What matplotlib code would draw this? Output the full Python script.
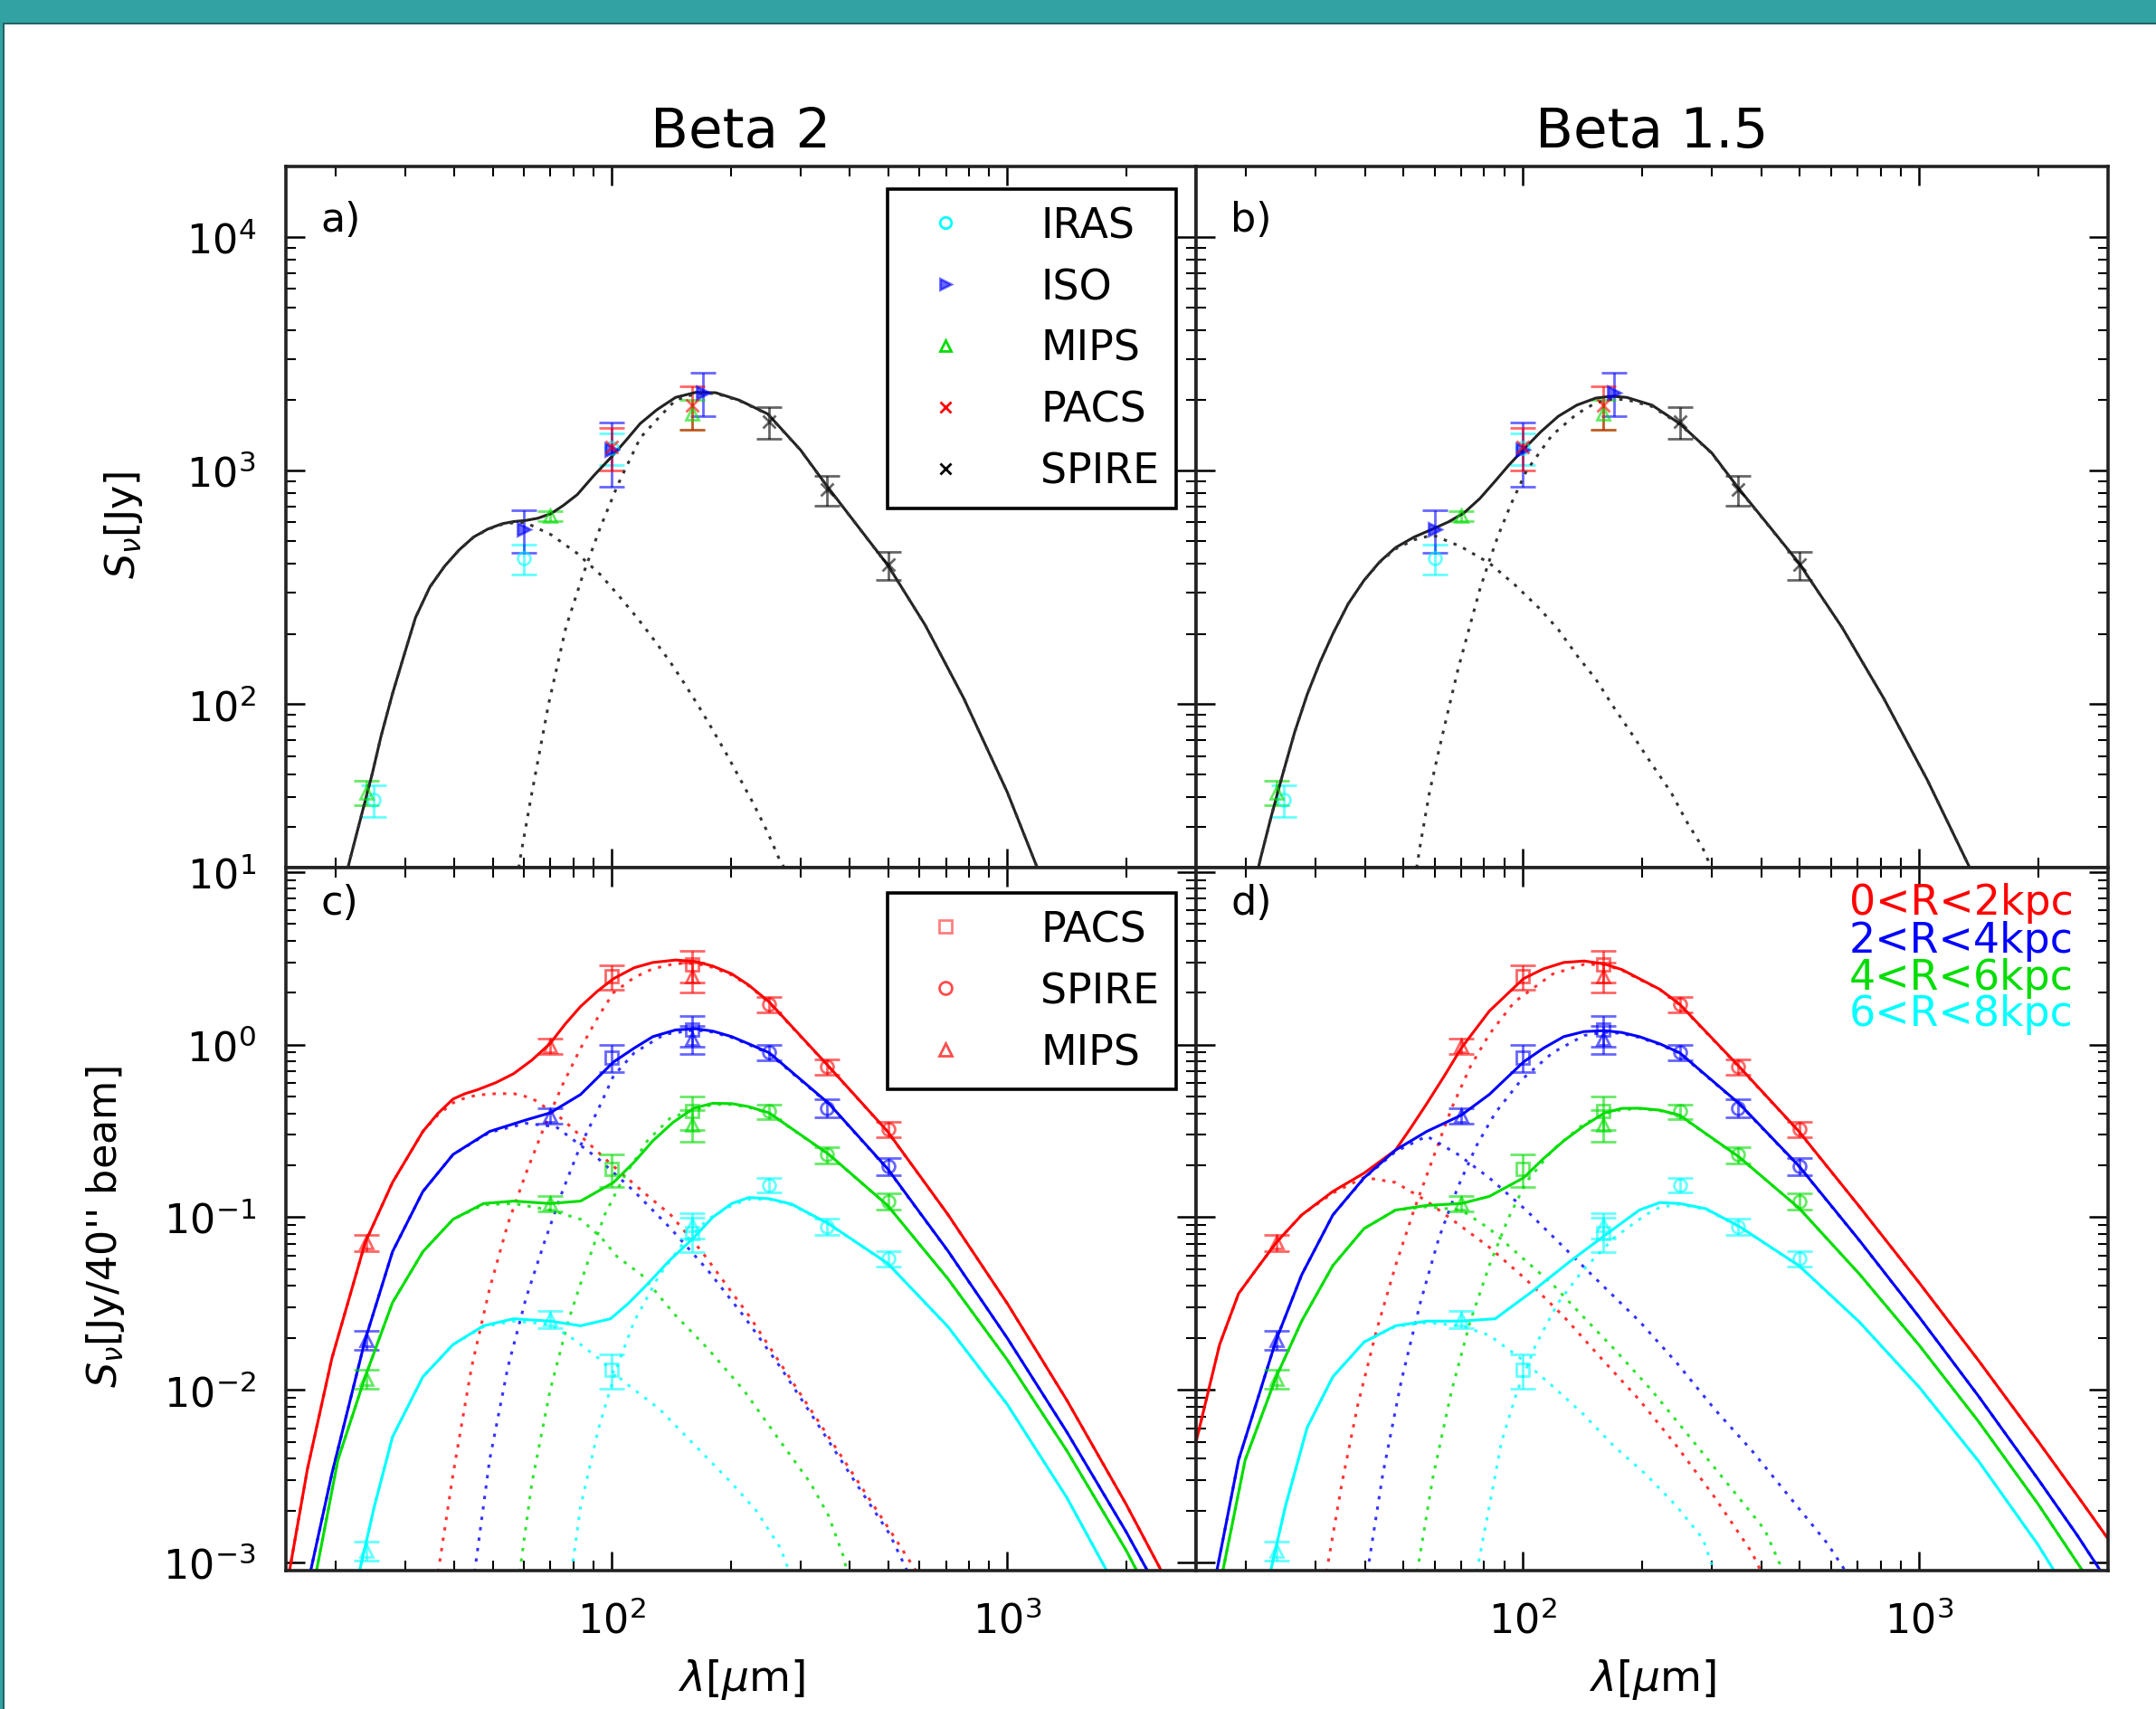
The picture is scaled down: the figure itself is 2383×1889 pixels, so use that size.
import matplotlib
matplotlib.use('Agg')
import matplotlib.pyplot as plt
from matplotlib.lines import Line2D
from matplotlib.patches import Rectangle

plt.rcParams['font.family'] = ['DejaVu Sans']
plt.rcParams['mathtext.fontset'] = 'dejavusans'

# ---------------- top panels: global SED (Jy) ----------------
iras_lam = [25, 60, 100]
iras_S = [39, 420, 1250]
iras_err = [6, 60, 190]
iso_lam = [60, 100, 170]
iso_S = [560, 1230, 2160]
iso_err = [115, 380, 450]
mips_lam = [24, 70, 160]
mips_S = [42, 640, 1750]
mips_err = [5, 30, 250]
pacs_lam = [100, 160]
pacs_S = [1260, 1900]
pacs_err = [260, 400]
spire_lam = [250, 350, 500]
spire_S = [1620, 830, 395]
spire_err = [250, 120, 55]

# panel a (beta 2) model curves
a_tot_lam = [21.2, 21.8, 24.8, 26.1, 27.9, 29.9, 31.9, 34.7, 37.8, 41.1, 44.7, 48.6, 52.8, 56.5, 60.4, 65, 70.3, 75.5, 81.8, 90,
             100, 108, 118, 130, 145, 163, 183, 210, 248, 300, 352, 420, 499, 620, 776, 1000, 1190, 1230]
a_tot_S = [18, 21.8, 50.5, 73, 111, 164, 235, 318, 390, 457, 519, 562, 592, 605, 611, 625, 655, 710, 789, 950,
           1148, 1331, 1589, 1820, 2056, 2160, 2153, 2000, 1746, 1225, 847, 574, 393, 218, 106, 42, 20, 17.6]
a_cold_lam = [57.7, 58.5, 62.5, 69.2, 76.6, 84.5, 93.5, 103.5, 118, 130, 145, 163, 183, 210, 248, 300, 352, 420, 499, 620,
              776, 1000, 1190, 1230]
a_cold_S = [18, 21.3, 40, 100, 214, 357, 570, 867, 1380, 1650, 2005, 2130, 2140, 1990, 1740, 1222, 845, 573, 392, 218,
            106, 42, 20, 17.6]
a_warm_lam = [21.2, 21.8, 24.8, 26.1, 27.9, 29.9, 31.9, 34.7, 37.8, 41.1, 44.7, 48.6, 52.8, 56.5, 60.4, 70.3, 81.8, 93.5,
              103.5, 116, 126, 140, 152, 166, 180, 196, 211, 228, 248, 264, 275]
a_warm_S = [18, 21.8, 50.5, 73, 111, 164, 235, 318, 390, 457, 518, 560, 588, 598, 600, 531, 442, 359,
            295, 234, 195, 153, 124, 97.7, 77.6, 60.3, 47.9, 37.6, 28.2, 22.1, 19.5]

# panel b (beta 1.5) model curves
b_tot_lam = [21.4, 21.8, 23.2, 24.8, 26.6, 28.6, 30.8, 33.2, 36.3, 39.8, 43.6, 47.8, 53.2, 59.3, 65, 71.1, 78, 85.3, 92.5,
             100.5, 111, 123, 137, 153, 168, 183, 212, 249, 300, 352, 420, 498, 640, 815, 1050, 1343, 1410]
b_tot_S = [19, 21.8, 33, 50, 76, 110, 151, 200, 269, 339, 407, 468, 519, 562, 603, 658, 759, 902, 1059,
           1230, 1462, 1706, 1905, 2042, 2080, 2056, 1905, 1589, 1190, 832, 575, 402, 213, 106, 47.4, 20, 16.7]
b_cold_lam = [53.5, 55.2, 58.2, 61.5, 65, 68.7, 73.8, 78, 82.4, 86.9, 93.5, 102.3, 118.6, 137, 153, 168, 183, 212, 249,
              300, 352, 420, 498, 640, 815, 1050, 1343, 1410]
b_cold_S = [18, 25.1, 41.9, 63.7, 95, 141, 220, 310, 411, 531, 719, 998, 1416, 1746, 1950, 2020, 2010, 1880, 1580,
            1185, 828, 573, 401, 213, 106, 47.4, 20, 16.7]
b_warm_lam = [21.4, 21.8, 23.2, 24.8, 26.6, 28.6, 30.8, 33.2, 36.3, 39.8, 43.6, 47.8, 53.2, 59.3, 69.8, 82.4, 95.3, 110,
              123, 137, 153, 170, 190, 212, 237, 259, 284, 300]
b_warm_S = [19, 21.8, 33, 50, 76, 110, 151, 200, 269, 339, 405, 462, 505, 530, 473, 402, 326, 258,
            209, 162, 128, 96.8, 73.3, 55.3, 41.9, 31.6, 24.5, 19.8]

# ---------------- bottom panels: radial rings (Jy / 40" beam) ----------------
ring_labels = ['0<R<2kpc', '2<R<4kpc', '4<R<6kpc', '6<R<8kpc']
ring_colors = ['#ff0000', '#0000ff', '#00dd00', '#00ffff']

r_mips_lam = [24, 70, 160]
r_pacs_lam = [100, 160]
r_spire_lam = [250, 350, 500]

red_mips = [0.0713, 0.98, 2.5]
blue_mips = [0.0195, 0.39, 1.08]
green_mips = [0.0116, 0.12, 0.345]
cyan_mips = [0.00117, 0.0258, 0.09]
red_mips_err = [0.008, 0.1, 0.5]
blue_mips_err = [0.0025, 0.04, 0.2]
green_mips_err = [0.0015, 0.012, 0.07]
cyan_mips_err = [0.00015, 0.003, 0.015]

red_pacs = [2.48, 2.9]
blue_pacs = [0.84, 1.22]
green_pacs = [0.19, 0.41]
cyan_pacs = [0.0131, 0.081]
red_pacs_err = [0.4, 0.6]
blue_pacs_err = [0.15, 0.25]
green_pacs_err = [0.04, 0.09]
cyan_pacs_err = [0.003, 0.018]

red_spire = [1.71, 0.745, 0.324]
blue_spire = [0.90, 0.43, 0.198]
green_spire = [0.41, 0.23, 0.124]
cyan_spire = [0.154, 0.0885, 0.0575]
red_spire_err = [0.17, 0.08, 0.035]
blue_spire_err = [0.09, 0.05, 0.022]
green_spire_err = [0.04, 0.025, 0.013]
cyan_spire_err = [0.015, 0.01, 0.006]

# panel c (beta 2) model curves
c_red_tot_lam = [15.3, 17.0, 19.6, 23.8, 27.9, 33.3, 36.3, 39.7, 42.5, 45.7, 51, 56.5, 62.8, 69.8, 76.3, 83.4, 92, 101, 114, 127,
                 145, 163, 180, 201, 222, 250, 354, 498, 708, 1000, 1413, 1995, 2460]
c_red_tot_S = [8.8e-4, 3.47e-3, 0.0152, 0.0713, 0.159, 0.314, 0.398, 0.484, 0.519, 0.547, 0.603, 0.679, 0.813, 1.014, 1.318, 1.663, 2.04, 2.41, 2.79, 2.99,
               3.09, 3.03, 2.85, 2.57, 2.21, 1.766, 0.745, 0.314, 0.1035, 0.0316, 8.73e-3, 2.18e-3, 8.8e-4]
c_red_cold_lam = [36.4, 39.7, 44.2, 49.1, 54.6, 60.7, 67.5, 75.0, 83.4, 92.7, 101, 114, 127, 145, 163, 180, 201, 222, 250, 354,
                  498, 708, 1000, 1413, 1995, 2460]
c_red_cold_S = [8.8e-4, 3.26e-3, 0.0135, 0.0385, 0.0914, 0.180, 0.334, 0.582, 0.953, 1.469, 2.0, 2.45, 2.75, 2.95, 2.95, 2.8, 2.53, 2.19, 1.75, 0.742,
                0.313, 0.1033, 0.0316, 8.73e-3, 2.18e-3, 8.8e-4]
c_red_warm_lam = [15.3, 17.0, 19.6, 23.8, 27.9, 33.3, 36.3, 39.7, 42.5, 45.7, 51, 56.5, 62.8, 75.0, 86.3, 99.3, 120.5, 141, 169, 223,
                  296, 386, 512, 590]
c_red_warm_S = [8.8e-4, 3.47e-3, 0.0152, 0.0713, 0.159, 0.314, 0.39, 0.46, 0.49, 0.51, 0.52, 0.52, 0.49, 0.37, 0.275, 0.204, 0.139, 0.103, 0.0631, 0.0266,
                9.89e-3, 3.92e-3, 1.46e-3, 8.8e-4]

c_blue_tot_lam = [17.3, 19.6, 23.8, 27.9, 33.3, 39.7, 49.1, 60.7, 69.8, 83.4, 101, 114, 127, 145, 163, 180, 201, 222, 250, 354,
                  498, 708, 1000, 1413, 1995, 2270]
c_blue_tot_S = [8.8e-4, 3.26e-3, 0.0195, 0.0631, 0.141, 0.231, 0.314, 0.366, 0.402, 0.514, 0.793, 0.955, 1.112, 1.216, 1.236, 1.197, 1.112, 1.01, 0.897, 0.455,
                0.191, 0.0637, 0.0199, 5.71e-3, 1.51e-3, 8.8e-4]
c_blue_cold_lam = [45.0, 49.1, 54.6, 60.7, 67.5, 75.0, 83.4, 92.7, 101, 114, 136, 163, 180, 201, 222, 250, 354, 498, 708, 1000,
                   1413, 1995, 2270]
c_blue_cold_S = [8.8e-4, 3.92e-3, 0.0135, 0.034, 0.0713, 0.141, 0.261, 0.428, 0.659, 0.897, 1.148, 1.216, 1.18, 1.10, 1.0, 0.885, 0.452, 0.190, 0.0635, 0.0199,
                 5.71e-3, 1.51e-3, 8.8e-4]
c_blue_warm_lam = [17.3, 19.6, 23.8, 27.9, 33.3, 39.7, 49.1, 60.7, 72.3, 92.7, 114, 141, 175, 216, 267, 330, 407, 504, 560]
c_blue_warm_S = [8.8e-4, 3.26e-3, 0.0195, 0.0631, 0.141, 0.231, 0.31, 0.35, 0.334, 0.217, 0.141, 0.0859, 0.0492, 0.0266, 0.0135, 6.43e-3, 3.06e-3, 1.46e-3, 8.8e-4]

c_green_tot_lam = [17.9, 20.3, 23.8, 27.9, 33.3, 39.7, 47.4, 56.5, 69.8, 83.4, 101, 114, 127, 143, 161, 180, 201, 222, 250, 354,
                   498, 708, 1000, 1413, 1995, 2133]
c_green_tot_S = [8.8e-4, 3.92e-3, 0.0119, 0.032, 0.0631, 0.0973, 0.120, 0.124, 0.120, 0.124, 0.159, 0.209, 0.277, 0.355, 0.428, 0.457, 0.455, 0.437, 0.402, 0.231,
                 0.117, 0.0439, 0.0149, 4.45e-3, 1.18e-3, 8.8e-4]
c_green_cold_lam = [58.5, 62.8, 69.8, 77.6, 86.3, 95.9, 107, 123, 141, 161, 180, 201, 222, 250, 354, 498, 708, 1000, 1413, 1995, 2133]
c_green_cold_S = [8.8e-4, 2.88e-3, 9.89e-3, 0.025, 0.0524, 0.103, 0.169, 0.277, 0.378, 0.417, 0.45, 0.45, 0.433, 0.40, 0.23, 0.117, 0.0439, 0.0149, 4.45e-3, 1.18e-3, 8.8e-4]
c_green_warm_lam = [17.9, 20.3, 23.8, 27.9, 33.3, 39.7, 47.4, 56.5, 69.8, 83.4, 94.2, 103, 119, 144, 175, 216, 267, 318, 353, 386, 393]
c_green_warm_S = [8.8e-4, 3.92e-3, 0.0119, 0.032, 0.0631, 0.0973, 0.118, 0.120, 0.110, 0.0973, 0.0759, 0.0593, 0.0463, 0.0274, 0.0173, 9.89e-3, 5.01e-3, 2.88e-3, 1.87e-3, 1.07e-3, 8.8e-4]

c_cyan_tot_lam = [23.0, 25.1, 27.9, 33.3, 39.7, 47.4, 56.5, 69.8, 83.4, 99.3, 110, 123, 140, 161, 180, 201, 222, 250, 285, 354,
                  498, 708, 1000, 1413, 1791]
c_cyan_tot_S = [8.8e-4, 2.11e-3, 5.33e-3, 0.0119, 0.0183, 0.0235, 0.0258, 0.025, 0.0235, 0.0258, 0.0316, 0.0409, 0.0562, 0.0759, 0.1, 0.120, 0.130, 0.128, 0.119, 0.0914,
                0.0541, 0.0232, 8.22e-3, 2.38e-3, 8.8e-4]
c_cyan_cold_lam = [79.1, 83.4, 92.7, 103, 114, 132, 152, 175, 201, 222, 250, 285, 354, 498, 708, 1000, 1413, 1791]
c_cyan_cold_S = [8.8e-4, 2.11e-3, 6.04e-3, 0.0135, 0.025, 0.0463, 0.0713, 0.0973, 0.117, 0.127, 0.127, 0.118, 0.091, 0.054, 0.0231, 8.2e-3, 2.38e-3, 8.8e-4]
c_cyan_warm_lam = [23.0, 25.1, 27.9, 33.3, 39.7, 47.4, 56.5, 69.8, 80.4, 92.7, 107, 132, 163, 201, 232, 267, 281]
c_cyan_warm_S = [8.8e-4, 2.11e-3, 5.33e-3, 0.0119, 0.0183, 0.0232, 0.025, 0.024, 0.0195, 0.0152, 0.0112, 7.73e-3, 4.71e-3, 2.88e-3, 1.99e-3, 1.21e-3, 8.8e-4]

# panel d (beta 1.5) model curves
d_red_tot_lam = [15.0, 17.2, 19.2, 21.3, 23.9, 27.7, 33.2, 39.8, 47.8, 52.3, 57.3, 63.5, 70.0, 82.4, 100.5, 113, 127, 143, 161, 178,
                 197, 222, 249, 352, 498, 708, 1000, 1413, 1995, 2512, 3000]
d_red_tot_S = [5.0e-3, 0.0183, 0.0361, 0.050, 0.0713, 0.103, 0.141, 0.180, 0.245, 0.331, 0.455, 0.66, 0.953, 1.563, 2.41, 2.75, 2.99, 3.05, 2.93, 2.72,
               2.41, 2.09, 1.714, 0.745, 0.314, 0.115, 0.0419, 0.0148, 5.06e-3, 2.43e-3, 1.37e-3]
d_red_cold_lam = [32.0, 35.0, 38.4, 42.8, 47.8, 53.2, 59.3, 66.2, 73.8, 82.4, 95.3, 119, 143, 161, 178, 197, 222, 249, 352, 498,
                  708, 1000, 1413, 1995, 2512, 3000]
d_red_cold_S = [8.8e-4, 2.88e-3, 8.22e-3, 0.0221, 0.0524, 0.110, 0.217, 0.428, 0.745, 1.148, 1.766, 2.56, 2.92, 2.9, 2.7, 2.39, 2.08, 1.70, 0.74, 0.313,
                0.1148, 0.0419, 0.0148, 5.06e-3, 2.43e-3, 1.37e-3]
d_red_warm_lam = [15.0, 17.2, 19.2, 21.3, 23.9, 27.7, 33.2, 39.8, 47.8, 57.3, 68.7, 82.4, 102, 127, 158, 197, 245, 305, 379, 400]
d_red_warm_S = [5.0e-3, 0.0183, 0.036, 0.050, 0.0713, 0.103, 0.138, 0.17, 0.159, 0.124, 0.0914, 0.067, 0.0436, 0.0266, 0.0152, 8.75e-3, 4.71e-3, 2.39e-3, 1.14e-3, 8.8e-4]

d_blue_tot_lam = [16.9, 19.2, 23.9, 27.7, 33.2, 39.8, 47.8, 57.3, 70.0, 82.4, 100.5, 113, 127, 143, 161, 178, 197, 222, 249, 352,
                  498, 708, 1000, 1413, 1995, 2512, 2884]
d_blue_tot_S = [8.8e-4, 3.92e-3, 0.0195, 0.0463, 0.103, 0.169, 0.245, 0.314, 0.390, 0.514, 0.793, 0.955, 1.112, 1.19, 1.205, 1.175, 1.112, 1.01, 0.897, 0.455,
                0.198, 0.0733, 0.0265, 9.2e-3, 3.05e-3, 1.43e-3, 8.8e-4]
d_blue_cold_lam = [40.6, 44.4, 49.4, 55.2, 61.5, 68.7, 76.6, 85.3, 98.9, 119, 143, 161, 178, 197, 222, 249, 352, 498, 708, 1000,
                   1413, 1995, 2512, 2884]
d_blue_cold_S = [8.8e-4, 3.26e-3, 0.0112, 0.032, 0.0759, 0.150, 0.261, 0.402, 0.619, 0.897, 1.13, 1.18, 1.16, 1.10, 1.0, 0.89, 0.452, 0.197, 0.0731, 0.0265,
                 9.2e-3, 3.05e-3, 1.43e-3, 8.8e-4]
d_blue_warm_lam = [16.9, 19.2, 23.9, 27.7, 33.2, 39.8, 47.8, 57.3, 68.7, 82.4, 102, 127, 158, 197, 245, 305, 379, 472, 587, 655]
d_blue_warm_S = [8.8e-4, 3.92e-3, 0.0195, 0.0463, 0.103, 0.168, 0.24, 0.295, 0.231, 0.169, 0.110, 0.067, 0.0409, 0.025, 0.0143, 7.73e-3, 4.44e-3, 2.39e-3, 1.29e-3, 8.8e-4]

d_green_tot_lam = [17.5, 19.95, 23.9, 27.7, 33.2, 39.8, 47.8, 57.3, 70.0, 82.4, 100.5, 113, 127, 143, 161, 178, 197, 222, 249, 352,
                   498, 708, 1000, 1413, 1995, 2600]
d_green_tot_S = [8.8e-4, 3.92e-3, 0.0119, 0.025, 0.0524, 0.0859, 0.110, 0.117, 0.120, 0.132, 0.169, 0.219, 0.277, 0.339, 0.402, 0.427, 0.428, 0.417, 0.390, 0.223,
                 0.113, 0.0468, 0.0182, 6.56e-3, 2.19e-3, 8.8e-4]
d_green_cold_lam = [54.2, 59.3, 66.2, 73.8, 82.4, 91.8, 102, 119, 142, 161, 178, 197, 222, 249, 352, 498, 708, 1000, 1413, 1995, 2600]
d_green_cold_S = [8.8e-4, 3.06e-3, 9.89e-3, 0.025, 0.0524, 0.0973, 0.159, 0.245, 0.344, 0.398, 0.42, 0.425, 0.414, 0.388, 0.222, 0.113, 0.0467, 0.0182, 6.56e-3, 2.19e-3, 8.8e-4]
d_green_warm_lam = [17.5, 19.95, 23.9, 27.7, 33.2, 39.8, 47.8, 57.3, 70.0, 82.4, 98.9, 119, 142, 170, 212, 264, 328, 408, 455]
d_green_warm_S = [8.8e-4, 3.92e-3, 0.0119, 0.025, 0.0524, 0.0859, 0.11, 0.115, 0.110, 0.0859, 0.0593, 0.0409, 0.0266, 0.0173, 9.89e-3, 5.33e-3, 2.88e-3, 1.55e-3, 8.8e-4]

d_cyan_tot_lam = [23.1, 25.2, 28.6, 33.2, 39.8, 47.8, 57.3, 70.0, 85.3, 106, 132, 161, 197, 222, 249, 290, 352, 498, 708, 1000,
                  1413, 1995, 2203]
d_cyan_tot_S = [8.8e-4, 2.11e-3, 6.04e-3, 0.0119, 0.0189, 0.0235, 0.025, 0.025, 0.0258, 0.0373, 0.0557, 0.0783, 0.110, 0.1216, 0.120, 0.112, 0.0885, 0.0524, 0.0247, 0.0104,
                3.87e-3, 1.27e-3, 8.8e-4]
d_cyan_cold_lam = [76.6, 82.4, 88.5, 97.0, 108, 123, 142, 170, 204, 222, 249, 290, 352, 498, 708, 1000, 1413, 1995, 2203]
d_cyan_cold_S = [8.8e-4, 2.11e-3, 5.01e-3, 9.89e-3, 0.0183, 0.032, 0.0493, 0.0759, 0.103, 0.114, 0.119, 0.111, 0.088, 0.0522, 0.0246, 0.0104, 3.87e-3, 1.27e-3, 8.8e-4]
d_cyan_warm_lam = [23.1, 25.2, 28.6, 33.2, 39.8, 47.8, 57.3, 70.0, 82.4, 98.9, 119, 142, 170, 204, 245, 285, 305]
d_cyan_warm_S = [8.8e-4, 2.11e-3, 6.04e-3, 0.0119, 0.0189, 0.0233, 0.0245, 0.0235, 0.0207, 0.0152, 0.0105, 7.26e-3, 4.71e-3, 3.26e-3, 2.11e-3, 1.37e-3, 8.8e-4]

# ---------------- figure ----------------
W, H = 2383, 1890
fig = plt.figure(figsize=(W / 100, H / 100), dpi=100)

x0, xm, x1 = 316 / W, 1322 / W, 2330 / W
yt, ym, yb = 1 - 185 / H, 1 - 960 / H, 1 - 1737 / H
axa = fig.add_axes([x0, ym, xm - x0, yt - ym])
axb = fig.add_axes([xm, ym, x1 - xm, yt - ym])
axc = fig.add_axes([x0, yb, xm - x0, ym - yb])
axd = fig.add_axes([xm, yb, x1 - xm, ym - yb])

TICK_FS = 32
DOT = (0, (1.2, 2.6))

for ax in (axa, axb, axc, axd):
    ax.set_xscale('log')
    ax.set_yscale('log')
    ax.set_xlim(15, 3000)
    ax.tick_params(which='both', direction='in', top=True, right=True,
                   labelsize=TICK_FS, pad=24)
    ax.tick_params(which='major', length=15, width=1.8)
    ax.tick_params(which='minor', length=8, width=1.5)
    for s in ax.spines.values():
        s.set_linewidth(2.6)
        s.set_color('#222222')

for ax in (axa, axb):
    ax.set_ylim(20, 2e4)
    ax.tick_params(labelbottom=False)
for ax in (axc, axd):
    ax.set_ylim(8.97e-4, 10.6)
for ax in (axb, axd):
    ax.tick_params(labelleft=False)

# ---- top panels ----
eb_kw = dict(capsize=10, elinewidth=2, capthick=2, ms=10, mew=2, alpha=0.6, linestyle='none')
for ax in (axa, axb):
    ax.errorbar(iras_lam, iras_S, yerr=iras_err, fmt='o', color='#00ffff', mfc='none', **eb_kw)
    ax.errorbar(iso_lam, iso_S, yerr=iso_err, fmt='>', color='#0000ff', **eb_kw)
    ax.errorbar(mips_lam, mips_S, yerr=mips_err, fmt='^', color='#00dd00', mfc='none', **eb_kw)
    ax.errorbar(pacs_lam, pacs_S, yerr=pacs_err, fmt='x', color='#ff0000', **eb_kw)
    ax.errorbar(spire_lam, spire_S, yerr=spire_err, fmt='x', color='#000000', **eb_kw)

axa.plot(a_tot_lam, a_tot_S, color='#222222', lw=2.2)
axa.plot(a_cold_lam, a_cold_S, color='#333333', lw=2.2, ls=DOT)
axa.plot(a_warm_lam, a_warm_S, color='#333333', lw=2.2, ls=DOT)
axb.plot(b_tot_lam, b_tot_S, color='#222222', lw=2.2)
axb.plot(b_cold_lam, b_cold_S, color='#333333', lw=2.2, ls=DOT)
axb.plot(b_warm_lam, b_warm_S, color='#333333', lw=2.2, ls=DOT)

leg_kw = dict(fontsize=33, numpoints=1, handlelength=2.0, handletextpad=1.3,
              labelspacing=0.5, borderpad=0.4, fancybox=False, edgecolor='black',
              loc='upper right', borderaxespad=0)
h_top = [
    Line2D([], [], ls='none', marker='o', color='#00ffff', mfc='none', ms=9, mew=2),
    Line2D([], [], ls='none', marker='>', color='#0000ff', alpha=0.6, ms=9, mew=2),
    Line2D([], [], ls='none', marker='^', color='#00dd00', mfc='none', ms=9, mew=2),
    Line2D([], [], ls='none', marker='x', color='#ff0000', ms=9, mew=2),
    Line2D([], [], ls='none', marker='x', color='#000000', ms=9, mew=2),
]
lg = axa.legend(h_top, ['IRAS', 'ISO', 'MIPS', 'PACS', 'SPIRE'],
                bbox_to_anchor=(0.978, 0.968), **leg_kw)
lg.get_frame().set_linewidth(2.6)
lg.get_frame().set_alpha(1)

# ---- bottom panels ----
mips_vals = [red_mips, blue_mips, green_mips, cyan_mips]
mips_errs = [red_mips_err, blue_mips_err, green_mips_err, cyan_mips_err]
pacs_vals = [red_pacs, blue_pacs, green_pacs, cyan_pacs]
pacs_errs = [red_pacs_err, blue_pacs_err, green_pacs_err, cyan_pacs_err]
spire_vals = [red_spire, blue_spire, green_spire, cyan_spire]
spire_errs = [red_spire_err, blue_spire_err, green_spire_err, cyan_spire_err]

c_curves = [
    (c_red_tot_lam, c_red_tot_S, c_red_cold_lam, c_red_cold_S, c_red_warm_lam, c_red_warm_S),
    (c_blue_tot_lam, c_blue_tot_S, c_blue_cold_lam, c_blue_cold_S, c_blue_warm_lam, c_blue_warm_S),
    (c_green_tot_lam, c_green_tot_S, c_green_cold_lam, c_green_cold_S, c_green_warm_lam, c_green_warm_S),
    (c_cyan_tot_lam, c_cyan_tot_S, c_cyan_cold_lam, c_cyan_cold_S, c_cyan_warm_lam, c_cyan_warm_S),
]
d_curves = [
    (d_red_tot_lam, d_red_tot_S, d_red_cold_lam, d_red_cold_S, d_red_warm_lam, d_red_warm_S),
    (d_blue_tot_lam, d_blue_tot_S, d_blue_cold_lam, d_blue_cold_S, d_blue_warm_lam, d_blue_warm_S),
    (d_green_tot_lam, d_green_tot_S, d_green_cold_lam, d_green_cold_S, d_green_warm_lam, d_green_warm_S),
    (d_cyan_tot_lam, d_cyan_tot_S, d_cyan_cold_lam, d_cyan_cold_S, d_cyan_warm_lam, d_cyan_warm_S),
]

for ax, curves in ((axc, c_curves), (axd, d_curves)):
    for i, col in enumerate(ring_colors):
        tl, ts, cl, cs, wl, ws = curves[i]
        ax.plot(cl, cs, color=col, lw=2.2, ls=DOT, alpha=0.8)
        ax.plot(wl, ws, color=col, lw=2.2, ls=DOT, alpha=0.8)
        ax.plot(tl, ts, color=col, lw=2.2)
        ax.errorbar(r_mips_lam, mips_vals[i], yerr=mips_errs[i], fmt='^', color=col, mfc='none', **eb_kw)
        ax.errorbar(r_pacs_lam, pacs_vals[i], yerr=pacs_errs[i], fmt='s', color=col, mfc='none', **eb_kw)
        ax.errorbar(r_spire_lam, spire_vals[i], yerr=spire_errs[i], fmt='o', color=col, mfc='none', **eb_kw)

h_bot = [
    Line2D([], [], ls='none', marker='s', color='#ff0000', mfc='none', alpha=0.5, ms=10, mew=2),
    Line2D([], [], ls='none', marker='o', color='#ff0000', mfc='none', alpha=0.7, ms=10, mew=2),
    Line2D([], [], ls='none', marker='^', color='#ff0000', mfc='none', alpha=0.7, ms=10, mew=2),
]
lg2 = axc.legend(h_bot, ['PACS', 'SPIRE', 'MIPS'], bbox_to_anchor=(0.978, 0.964), **leg_kw)
lg2.get_frame().set_linewidth(2.6)
lg2.get_frame().set_alpha(1)

ring_y = [0.950, 0.897, 0.844, 0.792]
for lab, col, yy in zip(ring_labels, ring_colors, ring_y):
    axd.text(0.962, yy, lab, color=col, fontsize=33, ha='right', va='center',
             transform=axd.transAxes)

# panel letters
for ax, lab, yy in ((axa, 'a)', 0.925), (axb, 'b)', 0.925), (axc, 'c)', 0.95), (axd, 'd)', 0.95)):
    ax.text(0.038, yy, lab, fontsize=32, ha='left', va='center', transform=ax.transAxes)

# titles and labels
axa.set_title('Beta 2', fontsize=44, pad=16)
axb.set_title('Beta 1.5', fontsize=44, pad=16)
axa.set_ylabel(r'$S_\nu$[Jy]', fontsize=32)
axa.yaxis.set_label_coords(-0.155, 0.49)
axc.set_ylabel(r"$S_\nu$[Jy/40'' beam]", fontsize=32)
axc.yaxis.set_label_coords(-0.175, 0.49)
for ax in (axc, axd):
    ax.set_xlabel(r'$\lambda[\mu\mathrm{m}]$', fontsize=34)
    ax.xaxis.set_label_coords(0.5, -0.122)

# teal frame
fig.add_artist(Rectangle((0, 1 - 27 / H), 1, 27 / H, transform=fig.transFigure,
                         facecolor='#33a2a2', edgecolor='none', zorder=10))
fig.add_artist(Rectangle((0, 1 - 28 / H), 1, 2.5 / H, transform=fig.transFigure,
                         facecolor='#1f6464', edgecolor='none', zorder=10))
fig.add_artist(Rectangle((0, 0), 3 / W, 1, transform=fig.transFigure,
                         facecolor='#33a2a2', edgecolor='none', zorder=10))
fig.add_artist(Rectangle((3 / W, 0), 1.5 / W, 1 - 27 / H, transform=fig.transFigure,
                         facecolor='#1f6464', edgecolor='none', zorder=10))

fig.savefig('out.png', dpi=100)
